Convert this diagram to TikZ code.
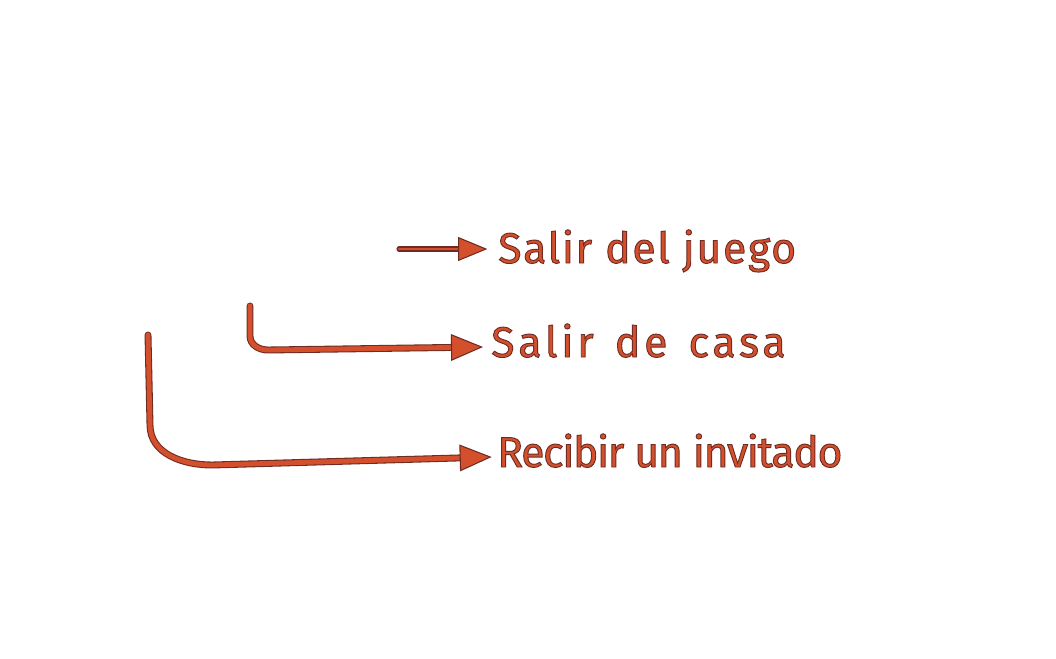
\documentclass[tikz,border=0pt]{standalone}
\usepackage{fontspec}
\setmainfont{Fira Sans}
\newfontfamily\fa[LetterSpace=4]{Fira Sans}
\newfontfamily\fb[LetterSpace=9,WordSpace=1.4]{Fira Sans}
\newfontfamily\fc[LetterSpace=-3]{Fira Sans}
\usetikzlibrary{arrows.meta}
\definecolor{fillc}{HTML}{D4502C}
\definecolor{edgec}{HTML}{6E2B24}
\newcommand\outl[1]{\special{pdf:literal direct 0.431 0.169 0.141 RG 2 Tr 0.7 w}#1\special{pdf:literal direct 0 Tr}}
\begin{document}
\begin{tikzpicture}[x=0.75pt,y=-0.75pt,
  lbl/.style={anchor=base west,inner sep=0pt,text=fillc},
  conn/.style={draw=edgec,line width=0.8pt,double=fillc,double distance=3.6pt,line cap=round,
    -{Triangle[length=24pt,width=20pt,fill=fillc,line width=0.8pt]}},
  thin conn/.style={conn,double distance=2.2pt,
    -{Triangle[length=22pt,width=18pt,fill=fillc,line width=0.8pt]}}]
\useasboundingbox (0,0) rectangle (1056,658);
\node[lbl,font=\fa\fontsize{32}{36}\selectfont] (t1) at (498,263) {\outl{Salir del juego}};
\node[lbl,font=\fb\fontsize{32}{36}\selectfont] (t2) at (491,357) {\outl{Salir de casa}};
\node[lbl,font=\fc\fontsize{32}{36}\selectfont] (t3) at (497,467) {\outl{Recibir un invitado}};
\coordinate (s1) at (399,249);
\coordinate (s2) at (250,306);
\coordinate (s3) at (148,335);
\draw[thin conn] (s1) -- ([xshift=-8]s1 -| t1.west);
\draw[conn] (s2) -- (250,336) to[out=-90,in=180] (268,350) -- ([xshift=-6]t2.west |- 0,347);
\draw[conn] (s3) -- (150,425) to[out=-90,in=180] (212,465) -- ([xshift=-4]t3.west |- 0,457);
\end{tikzpicture}
\end{document}
